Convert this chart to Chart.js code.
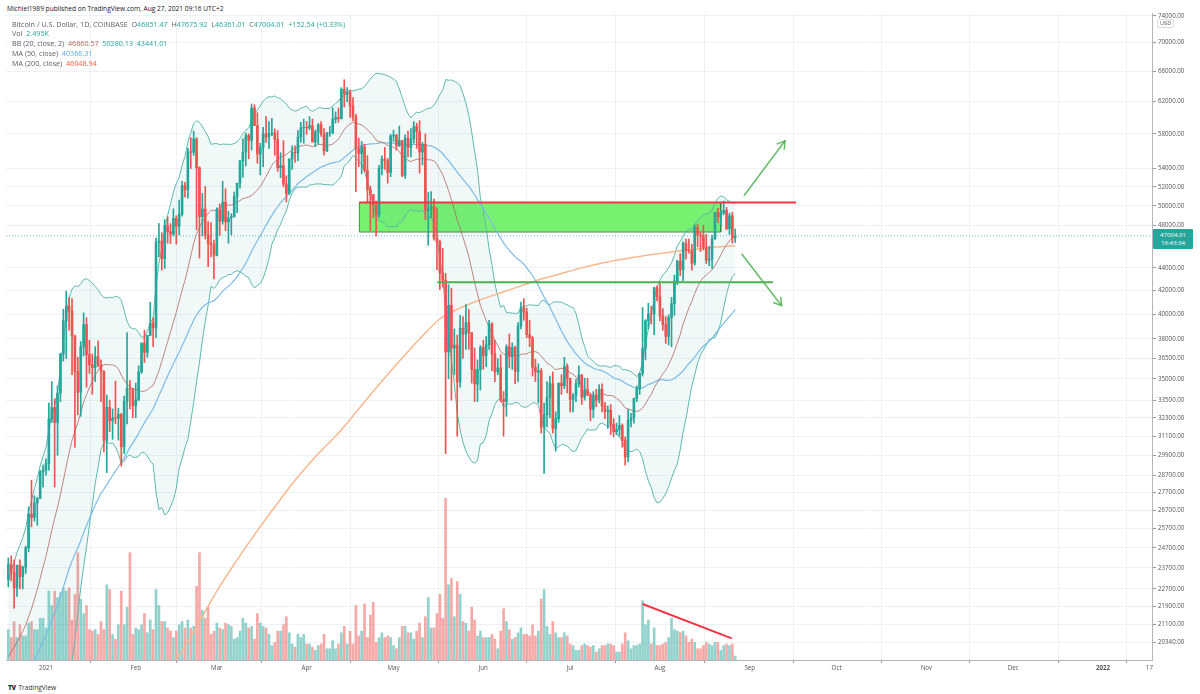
<!DOCTYPE html>
<html><head><meta charset="utf-8">
<script src="https://cdn.jsdelivr.net/npm/chart.js@4.4.0/dist/chart.umd.min.js"></script>
<style>
html,body{margin:0;padding:0;background:#fff;width:1200px;height:694px;overflow:hidden;font-family:"Open Sans","Noto Sans",Arial,sans-serif;}
#hdr{position:absolute;left:7px;top:4px;font-size:6.6px;color:#131722;white-space:nowrap;line-height:9px;}
#wrap{position:absolute;left:0;top:12px;width:1200px;height:668px;}
.lg{position:absolute;left:12px;font-size:7.2px;color:#5d606b;white-space:nowrap;line-height:9px;}
.t{color:#26a69a}
#usd{position:absolute;left:1157px;top:19px;font-size:5.6px;color:#555;border:1px solid #d8dbe2;border-radius:2px;padding:0 2px;line-height:7px;background:#fff;}
#plbl{position:absolute;left:1153px;top:229px;width:40px;height:20px;background:#26a69a;color:#fff;font-size:6.1px;line-height:8px;text-align:center;border-radius:1px;padding-top:2px;box-sizing:border-box;}
#logo{position:absolute;left:8px;top:683px;font-size:6.6px;color:#333;white-space:nowrap;}
#logo b{font-weight:900;letter-spacing:-0.5px;margin-right:3px;}
</style></head>
<body>
<div id="hdr">Michiel1989 published on TradingView.com, Aug 27, 2021 09:16 UTC+2</div>
<div id="wrap"><canvas id="c" width="1200" height="668"></canvas></div>
<div class="lg" style="top:19.5px">Bitcoin / U.S. Dollar, 1D, COINBASE&nbsp; O<span class="t">46851.47</span>&nbsp; H<span class="t">47675.92</span>&nbsp; L<span class="t">46361.01</span>&nbsp; C<span class="t">47004.01</span>&nbsp; <span class="t">+152.54 (+0.33%)</span></div>
<div class="lg" style="top:29px">Vol&nbsp; <span class="t">2.495K</span></div>
<div class="lg" style="top:39px">BB (20, close, 2)&nbsp; <span style="color:#b0675e">46860.57</span>&nbsp; <span class="t">50280.13</span>&nbsp; <span class="t">43441.01</span></div>
<div class="lg" style="top:48.5px">MA (50, close)&nbsp; <span style="color:#5aaae6">40366.31</span></div>
<div class="lg" style="top:58.5px">MA (200, close)&nbsp; <span style="color:#f0603a">46048.94</span></div>
<div id="usd">USD</div>
<div id="plbl">47004.01<br>16:43:34</div>
<div id="logo"><b>TV</b>TradingView</div>
<script>
// day index: 0 = 2021-01-01
const FIRST_CLOSE_DAY = -61;   // closes start 2020-11-01
const FIRST_SHOWN_DAY = -13;   // candles start 2020-12-19

const closes = [
// Nov 2020
13737,13550,14025,14150,15590,15580,14830,15480,15330,15310,15700,16290,16330,16080,15960,16720,17650,17790,17820,18660,18690,18420,18370,19160,18730,17150,17140,17720,18180,19700,
// Dec 2020
18790,19220,19450,18700,19150,19380,19180,18330,18560,18250,18040,18810,19170,19280,19440,21380,22850,23150,23870,23490,22750,23830,23280,23740,24710,26490,26300,27100,27370,28890,29000,
// Jan
29400,32200,33000,31990,33990,36830,39460,40670,40240,38240,35550,34050,37390,39150,36800,36030,35820,36640,36020,35550,30830,33010,32100,32290,32260,32530,30430,33410,34320,34290,33110,
// Feb
33530,35510,37680,36970,38290,39260,38880,46400,46500,44850,48010,47400,47190,48720,47940,49180,52150,51680,55890,55840,57400,54090,48890,49680,47070,46280,46140,45160,
// Mar
49600,48440,50380,48380,48770,48880,50970,52380,54880,55860,57800,57230,61190,59000,55640,56430,58020,57640,58030,58100,57350,54100,54340,52300,51300,55070,55860,55780,57630,58740,58800,
// Apr
58730,58990,57060,58210,59120,58020,56000,58090,58130,59770,59990,59860,63580,62960,63200,61440,60070,56250,55700,56480,53800,51700,51190,50100,49070,54020,55050,54880,53580,57750,
// May
57830,56630,57200,53240,57480,56430,57390,58890,58280,55860,56770,49500,49700,49930,46760,46430,43540,42900,37000,40730,37300,37530,34770,38850,38390,39300,38500,35680,34630,35680,37340,
// Jun
36700,37570,39190,36850,35520,35800,33560,33400,37390,36690,37340,35550,39020,40530,40160,38340,38090,35840,35490,35600,31680,32510,33690,34660,31600,32240,34700,34500,35910,35040,
// Jul
33540,33800,34660,35290,33700,34220,33860,32880,33800,33500,34260,33100,32720,32820,31870,31390,31530,31790,30820,29790,32140,32290,33600,34290,35400,37280,39460,40020,40010,42230,41460,
// Aug
39850,39150,38200,39720,40870,42830,44620,43830,46290,45600,45580,44430,47830,47100,47010,45900,44700,44800,46720,49320,48870,49280,49550,47700,48990,46851.47,47004.01
];

const highs = [
24200,24300,24100,23840,24100,23790,24790,26870,28400,27500,27400,28990,29300,
29680,33300,34800,33600,34500,36900,40400,41950,41400,41300,38300,36600,37800,40100,39700,37900,36850,37400,37850,36400,35600,33850,33500,32900,34850,32950,32600,33780,38500,34900,34300,
34700,35950,37700,38700,38300,40980,39700,46800,48200,47300,48600,48900,48200,49700,49000,50600,52600,52500,56300,57550,58350,57550,54200,51300,52050,48400,48300,46600,
49800,50200,52600,51800,49450,49200,51450,52400,54900,57400,58100,58000,61700,61600,60600,56900,58800,60100,59500,59900,58600,58400,55800,57200,53200,55100,56600,56600,58400,59400,59800,
59500,60100,59800,58500,59250,59500,58650,58200,58900,61200,60700,61200,63800,64850,63800,63500,62500,60400,57500,57100,56800,55450,52100,51200,50500,54350,55450,56400,55150,57950,
58450,57950,58950,57200,57900,58350,58650,59500,59300,59600,57000,58000,51400,51500,50700,49800,46600,45800,43500,42500,42200,38800,38300,39900,39800,40800,40400,38200,37300,36400,37500,
37900,38200,39500,39300,37900,36500,36800,34100,37550,38400,37700,37450,39300,41000,41300,40500,39500,38200,36450,36100,35750,33300,34800,35200,35500,32700,34700,35300,36600,36100,
35050,33950,34950,35950,35300,35050,35050,33900,34100,34250,34600,34650,33350,33100,33200,32250,31950,32450,31900,31050,32850,32600,33650,34500,35400,40550,39550,40900,40650,42300,42400,
42600,40450,39800,39950,41400,43350,44700,45300,46450,46700,46700,46200,48100,48150,47400,48050,47150,46000,47050,49350,49750,49500,50500,49850,49250,49350,47675.92
];

const lows = [
22800,23070,21820,22350,22700,22700,23430,24500,25800,26100,25880,27330,28000,
28700,29000,32000,28000,29900,33400,36300,36500,38700,35300,30400,32500,32400,36700,34400,35400,33900,34800,35900,33400,30100,28850,31400,30900,31900,30850,29240,30000,31900,32900,32300,
32300,33450,35400,36200,36600,38250,37400,38100,45000,43800,43950,46300,46250,47000,46200,47100,48950,50900,50800,54000,55500,47600,44900,47000,46700,44100,45000,43000,
45100,47050,48150,47500,46300,47100,48900,49300,51850,53050,54300,55100,56100,59000,54600,53300,54200,57000,56300,57800,55500,53700,53000,52000,50400,51200,53900,54700,54900,57000,56900,
57950,58500,57000,56500,56800,57700,55500,55900,57700,58000,59300,59400,59800,61300,62000,60000,59600,51500,54200,53400,53600,50400,47500,48800,47000,48850,53300,53900,52400,53100,
57100,56100,56500,53100,52900,55300,55300,56900,56300,53500,54400,48600,46100,48800,46600,43850,42100,42300,30000,35000,33500,35300,31100,34400,36500,37200,37200,34700,33400,33400,34200,
35700,35900,37200,35600,34800,35300,33400,31100,32400,35800,35700,34650,34800,38800,39500,38100,37400,35200,34800,33300,31300,28800,31700,32300,31300,30150,32000,33900,34300,34000,
32700,32700,33400,34400,33200,33500,33800,32100,32300,33050,33300,32700,32250,31600,31200,31050,31200,31100,30400,29300,29500,31700,31950,33400,33900,35200,36400,38800,39200,38350,41100,
39450,38700,37650,37550,37400,39900,42500,43300,42850,44800,45350,43800,44250,45950,45500,45650,44400,44200,43950,46650,48300,48100,49100,47600,47150,46300,46361.01
];

// volume, thousands of BTC
const volumes = [
19,14,24,14,22,15,15,23,24,19,19,26,26,
20,43,34,43,39,42,45,43,45,25,41,67,38,29,34,19,18,19,16,24,19,47,44,16,13,22,43,22,33,67,16,
20,19,22,29,17,25,19,44,34,24,24,20,18,14,18,22,24,20,25,20,21,46,67,31,26,33,16,18,
23,20,19,23,22,21,13,14,18,26,23,20,21,13,29,23,21,20,16,9,11,18,18,22,27,17,10,8,16,14,16,
10,10,8,6,9,10,16,7,7,12,7,10,17,21,10,18,10,34,15,18,35,14,28,36,11,14,17,14,15,14,
9,7,14,21,21,17,17,13,18,23,14,27,39,20,20,29,41,26,101,47,51,27,49,41,24,23,18,33,25,15,18,
14,14,14,16,13,7,18,32,24,19,13,14,17,20,16,16,15,22,15,18,38,44,21,16,24,17,14,14,17,15,
10,9,6,6,9,10,9,8,9,5,7,9,9,10,10,9,5,5,10,17,12,7,9,9,10,37,22,25,10,20,9,
9,10,11,14,26,19,18,17,18,15,11,13,11,7,7,9,11,10,9,11,11,6,9,10,9,10,2.495
];

// MA(200)
const ma200Days = [38,45,52,59,66,73,80,87,94,101,108,115,122,129,136,143,150,157,164,171,178,185,192,199,206,213,220,227,234,238];
const ma200Vals = [18300,19600,21000,22600,24100,25600,27100,28600,30000,31300,32900,34600,36300,38000,39600,40500,41200,41800,42400,43000,43500,44000,44450,44800,45100,45350,45600,45800,45980,46048.94];

const yTicks = [74000,70000,66000,62000,58000,54000,52000,50000,48000,44000,42000,40000,38000,36500,35000,33500,32300,31100,29900,28700,27700,26700,25700,24700,23700,22700,21900,21100,20340];
const xTickDays = [0,31,59,90,120,151,181,212,243,273,304,334,365,381];
const xTickLabels = ['2021','Feb','Mar','Apr','May','Jun','Jul','Aug','Sep','Oct','Nov','Dec','2022','17'];

// drawings (in days / prices)
const zoneDays = [108.2, 233.0];
const zonePrices = [47376, 50350];
const redLineDays = [108.2, 259.0];
const redLinePrice = 50350;
const greenLineDays = [135.1, 251.0];
const greenLinePrice = 42706;
const arrowUpDays = [241.0, 255.2];
const arrowUpPrices = [51050, 57180];
const arrowDownDays = [240.2, 254.0];
const arrowDownPrices = [45300, 40700];
const volTrendDays = [206.0, 236.8];
const volTrendVals = [35, 13.5];
const lastPrice = 47004.01;

const X_MIN = -13.8, X_MAX = 381.9, Y_MIN = 19604, Y_MAX = 74420, V_MAX = 404;

const UP = '#26a69a', DN = '#ef5350';
const UPV = 'rgba(38,166,154,0.5)', DNV = 'rgba(239,83,80,0.5)';

const bodies = [], wicks = [], vols = [], bodyCol = [], volCol = [];
const n = highs.length;
const off = FIRST_SHOWN_DAY - FIRST_CLOSE_DAY;
for (let i = 0; i < n; i++) {
  const ci = off + i, d = FIRST_SHOWN_DAY + i;
  const o = closes[ci - 1], c = closes[ci];
  const up = c >= o;
  let lo = Math.min(o, c), hi = Math.max(o, c);
  if (hi - lo < hi * 0.0004) hi = lo * 1.0004;
  bodies.push({x: d, y: [lo, hi]});
  wicks.push({x: d, y: [Math.min(lows[i], o, c), Math.max(highs[i], o, c)]});
  bodyCol.push(up ? UP : DN);
  vols.push({x: d, y: volumes[i]});
  volCol.push(up ? UPV : DNV);
}
function sma(p, ci) {
  if (ci - p + 1 < 0) return null;
  let s = 0; for (let k = ci - p + 1; k <= ci; k++) s += closes[k];
  return s / p;
}
function sdev(p, ci, m) {
  let s = 0; for (let k = ci - p + 1; k <= ci; k++) s += (closes[k] - m) ** 2;
  return Math.sqrt(s / p);
}
const bbU = [], bbL = [], bbM = [], ma50 = [];
for (let i = 0; i < n; i++) {
  const ci = off + i, d = FIRST_SHOWN_DAY + i;
  const m = sma(20, ci), sd = sdev(20, ci, m);
  bbM.push({x: d, y: m}); bbU.push({x: d, y: m + 2 * sd}); bbL.push({x: d, y: m - 2 * sd});
  ma50.push({x: d, y: sma(50, ci)});
}
const ma200 = ma200Days.map((d, i) => ({x: d, y: ma200Vals[i]}));

const lineDs = (data, color, width, extra) => Object.assign({
  type: 'line', data, borderColor: color, borderWidth: width, pointRadius: 0, fill: false, tension: 0
}, extra || {});

const arrowHeads = {
  id: 'arrowHeads',
  afterDatasetsDraw(chart) {
    const ctx = chart.ctx, xs = chart.scales.x, ys = chart.scales.y;
    [[arrowUpDays, arrowUpPrices], [arrowDownDays, arrowDownPrices]].forEach(([ds, ps]) => {
      const x0 = xs.getPixelForValue(ds[0]), y0 = ys.getPixelForValue(ps[0]);
      const x1 = xs.getPixelForValue(ds[1]), y1 = ys.getPixelForValue(ps[1]);
      const a = Math.atan2(y1 - y0, x1 - x0), L = 9;
      ctx.save();
      ctx.strokeStyle = 'rgba(76,175,80,0.85)'; ctx.lineWidth = 1.5;
      ctx.beginPath();
      ctx.moveTo(x1 - L * Math.cos(a - 0.55), y1 - L * Math.sin(a - 0.55));
      ctx.lineTo(x1, y1);
      ctx.lineTo(x1 - L * Math.cos(a + 0.55), y1 - L * Math.sin(a + 0.55));
      ctx.stroke();
      ctx.restore();
    });
  }
};

const FONT = 'Open Sans';
new Chart(document.getElementById('c'), {
  type: 'bar',
  data: { datasets: [
    lineDs([{x: X_MIN, y: lastPrice}, {x: X_MAX, y: lastPrice}], 'rgba(38,166,154,0.7)', 1, {borderDash: [1, 2], order: 3}),
    lineDs(bbU, '#5fb8ad', 1, {fill: '+1', backgroundColor: 'rgba(38,166,154,0.07)', order: 6}),
    lineDs(bbL, '#5fb8ad', 1, {order: 6}),
    lineDs(bbM, 'rgba(170,95,85,0.75)', 1, {order: 5}),
    lineDs(ma50, '#7bbbe8', 1.2, {order: 5}),
    lineDs(ma200, '#f8b88f', 1.5, {cubicInterpolationMode: 'monotone', order: 5}),
    {type: 'bar', data: vols, yAxisID: 'yv', backgroundColor: volCol, barThickness: 2, grouped: false, order: 9},
    lineDs([{x: zoneDays[0], y: zonePrices[1]}, {x: zoneDays[1], y: zonePrices[1]}, {x: zoneDays[1], y: zonePrices[0]}, {x: zoneDays[0], y: zonePrices[0]}, {x: zoneDays[0], y: zonePrices[1]}],
      'rgba(60,130,60,0.9)', 1, {fill: 'shape', backgroundColor: 'rgba(110,240,100,0.92)', order: 7}),
    {type: 'bar', data: wicks, backgroundColor: bodyCol, barThickness: 1, grouped: false, order: 2},
    {type: 'bar', data: bodies, backgroundColor: bodyCol, barThickness: 2, grouped: false, order: 1},
    lineDs([{x: redLineDays[0], y: redLinePrice}, {x: redLineDays[1], y: redLinePrice}], '#f23645', 2, {order: 0}),
    lineDs([{x: greenLineDays[0], y: greenLinePrice}, {x: greenLineDays[1], y: greenLinePrice}], '#4caf50', 2, {order: 0}),
    lineDs([{x: arrowUpDays[0], y: arrowUpPrices[0]}, {x: arrowUpDays[1], y: arrowUpPrices[1]}], 'rgba(76,175,80,0.85)', 1.5, {order: 0}),
    lineDs([{x: arrowDownDays[0], y: arrowDownPrices[0]}, {x: arrowDownDays[1], y: arrowDownPrices[1]}], 'rgba(76,175,80,0.85)', 1.5, {order: 0}),
    lineDs([{x: volTrendDays[0], y: volTrendVals[0]}, {x: volTrendDays[1], y: volTrendVals[1]}], '#f23645', 2, {yAxisID: 'yv', order: 0})
  ]},
  options: {
    responsive: false, animation: false,
    layout: {padding: {left: 6, top: 1, right: 0, bottom: 0}},
    plugins: {legend: {display: false}, tooltip: {enabled: false}},
    scales: {
      x: {
        type: 'linear', min: X_MIN, max: X_MAX, offset: false,
        afterBuildTicks: s => { s.ticks = xTickDays.map(v => ({value: v})); },
        ticks: {
          autoSkip: false, maxRotation: 0, color: '#555', padding: 2,
          callback: v => xTickLabels[xTickDays.indexOf(v)],
          font: c => ({family: FONT, size: 6.2, weight: (c.tick && c.tick.value === 365) ? 'bold' : 'normal'})
        },
        grid: {color: '#eef2f6', tickLength: 3, tickColor: '#9598a1'},
        border: {color: '#b2b5be'},
        afterFit: s => { s.height = 20; s.paddingLeft = 0; s.paddingRight = 0; }
      },
      y: {
        type: 'logarithmic', position: 'right', min: Y_MIN, max: Y_MAX,
        afterBuildTicks: s => { s.ticks = yTicks.map(v => ({value: v})); },
        ticks: {autoSkip: false, color: '#555', padding: 2, font: {family: FONT, size: 6.2},
          callback: v => Number(v).toFixed(2)},
        grid: {color: '#eef2f6', tickLength: 4, tickColor: '#9598a1'},
        border: {color: '#b2b5be'},
        afterFit: s => { s.width = 48; s.paddingTop = 0; s.paddingBottom = 0; }
      },
      yv: {type: 'linear', display: false, min: 0, max: V_MAX}
    }
  },
  plugins: [arrowHeads]
});
</script>
</body></html>
